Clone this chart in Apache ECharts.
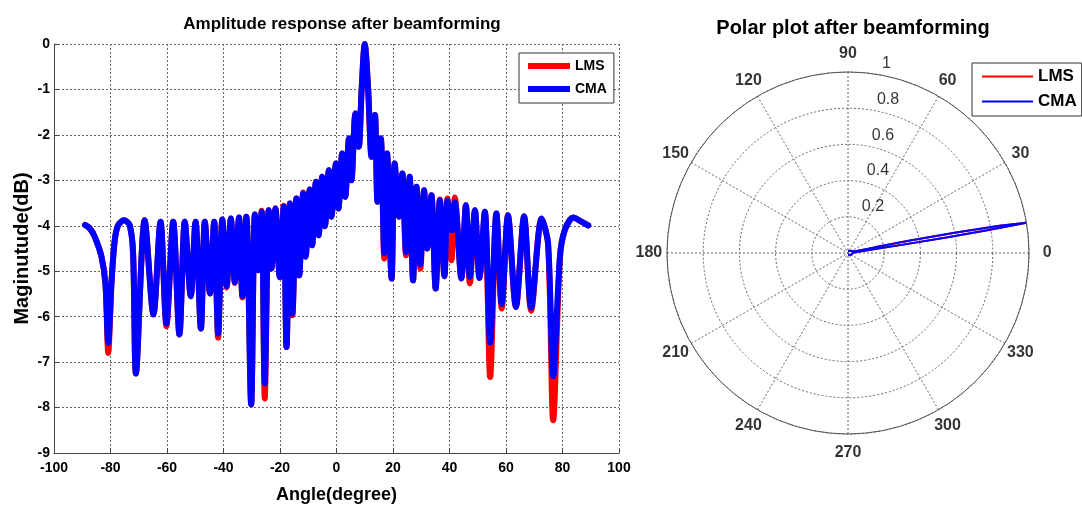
<!DOCTYPE html>
<html>
<head>
<meta charset="utf-8">
<title>Beamforming</title>
<script src="https://cdn.jsdelivr.net/npm/echarts@6.0.0/dist/echarts.min.js"></script>
<style>
  html, body { margin: 0; padding: 0; background: #fff; }
  #main { width: 1082px; height: 509px; }
</style>
</head>
<body>
<div id="main"></div>
<script>
// amplitude response (dB)
var angleDeg = [-89.0, -87.3, -85.6, -83.2, -81.8, -80.8, -79.6, -78.5, -77.3, -75.2, -73.2, -72.0, -71.0, -67.9, -64.8, -62.3, -60.2, -57.8, -55.6, -53.7,
  -51.6, -49.9, -48.0, -46.6, -44.8, -43.3, -41.9, -40.4, -38.9, -37.4, -36.0, -34.5, -33.3, -31.9, -30.2, -28.9, -27.7, -26.5, -25.4, -24.0,
  -23.0, -21.6, -20.1, -18.7, -17.7, -16.5, -15.6, -14.2, -13.2, -11.8, -10.9, -9.5, -8.6, -7.3, -6.3, -5.1, -4.1, -2.7, -1.8, -0.2,
  0.7, 2.0, 3.1, 4.4, 5.3, 6.7, 7.9, 8.9, 10.0, 11.2, 12.4, 13.6, 14.5, 15.7, 16.9, 17.9, 19.5, 20.6, 22.1, 23.3,
  24.6, 25.9, 27.1, 28.3, 29.7, 31.0, 32.1, 33.6, 35.1, 36.6, 38.2, 39.3, 40.7, 41.9, 44.2, 45.8, 47.2, 49.0, 50.6, 52.5,
  54.4, 56.6, 58.5, 60.7, 63.5, 66.4, 68.9, 72.6, 74.9, 76.7, 79.1, 80.8, 83.8, 86.7, 89.1];

var lmsDb = [-3.98, -4.06, -4.24, -4.68, -5.27, -6.80, -5.20, -4.32, -3.99, -3.88, -3.99, -4.61, -7.25, -3.88, -5.95, -3.91, -6.21, -3.91, -6.39, -3.91,
  -5.55, -3.91, -6.26, -3.91, -5.49, -3.91, -6.46, -3.86, -5.36, -3.84, -5.26, -3.82, -5.58, -3.80, -7.93, -3.75, -4.98, -3.67, -7.80, -3.66,
  -4.94, -3.62, -5.13, -3.56, -6.67, -3.51, -5.97, -3.40, -5.09, -3.27, -4.68, -3.20, -4.43, -3.03, -4.21, -2.92, -4.01, -2.78, -3.80, -2.63,
  -3.62, -2.41, -3.36, -2.08, -3.00, -1.53, -2.26, -1.00, 0.00, -1.00, -2.48, -1.56, -3.47, -2.08, -4.72, -2.41, -5.16, -2.63, -3.80, -2.85,
  -4.65, -2.92, -5.20, -3.14, -4.94, -3.22, -4.50, -3.33, -5.38, -3.42, -5.11, -3.40, -4.76, -3.38, -5.16, -3.55, -5.27, -3.66, -5.15, -3.69,
  -7.33, -3.73, -5.82, -3.77, -5.79, -3.79, -5.87, -3.84, -4.40, -8.28, -4.68, -4.10, -3.82, -3.91, -3.99];

var cmaDb = [-3.98, -4.06, -4.24, -4.68, -5.27, -6.58, -5.20, -4.32, -3.99, -3.88, -3.99, -4.61, -7.25, -3.88, -5.95, -3.91, -6.15, -3.91, -6.39, -3.91,
  -5.55, -3.91, -6.26, -3.91, -5.49, -3.91, -6.37, -3.86, -5.33, -3.84, -5.24, -3.82, -5.55, -3.80, -7.93, -3.75, -4.98, -3.69, -7.47, -3.66,
  -4.94, -3.62, -5.13, -3.58, -6.67, -3.51, -5.93, -3.40, -5.09, -3.29, -4.68, -3.20, -4.43, -3.03, -4.21, -2.92, -4.01, -2.78, -3.80, -2.63,
  -3.62, -2.41, -3.36, -2.08, -3.00, -1.53, -2.26, -1.00, 0.00, -1.00, -2.48, -1.56, -3.47, -2.08, -4.60, -2.41, -5.16, -2.63, -3.80, -2.85,
  -4.58, -2.92, -5.20, -3.14, -4.85, -3.22, -4.50, -3.33, -5.38, -3.44, -5.11, -3.45, -4.10, -3.48, -5.16, -3.55, -5.13, -3.66, -5.15, -3.69,
  -6.57, -3.73, -5.72, -3.77, -5.79, -3.79, -5.80, -3.84, -4.40, -7.31, -4.68, -4.10, -3.82, -3.91, -3.99];

// polar pattern (angle in degrees, normalised radius)
var polarAngle = [270, 300, 330, 350, 0, 5, 7.5, 8.2, 8.6, 9.0, 9.3, 9.6, 10.2, 10.8, 11.4, 12.0, 12.6, 13.6, 15.7, 20, 40, 60, 90];
var polarLms   = [0.01, 0.01, 0.02, 0.02, 0.02, 0.03, 0.04, 0.10, 0.30, 0.55, 0.78, 1.00, 0.85, 0.60, 0.35, 0.15, 0.05, 0.06, 0.04, 0.03, 0.02, 0.01, 0.01];
var polarCma   = [0.01, 0.01, 0.02, 0.02, 0.02, 0.03, 0.04, 0.10, 0.30, 0.55, 0.78, 1.00, 0.85, 0.60, 0.35, 0.15, 0.05, 0.06, 0.04, 0.03, 0.02, 0.01, 0.01];

var radialTicks = [0.2, 0.4, 0.6, 0.8, 1];
var angleTicks = [0, 30, 60, 90, 120, 150, 180, 210, 240, 270, 300, 330];

var FONT = "'Liberation Sans', Arial, sans-serif";
var R = 181;

function pairs(xs, ys) {
  var out = [];
  for (var i = 0; i < xs.length; i++) out.push([xs[i], ys[i]]);
  return out;
}
function polarPairs(as, rs) {
  var out = [];
  for (var i = 0; i < as.length; i++) out.push([rs[i], as[i]]);
  return out;
}

var myChart = echarts.init(document.getElementById('main'), null, { renderer: 'canvas' });

var gridLine = { show: true, lineStyle: { color: '#666', type: [2, 2], width: 1 } };
var hidden = { show: false };

var option = {
  backgroundColor: '#fff',
  animation: false,
  textStyle: { fontFamily: FONT },
  title: [
    {
      text: 'Amplitude response after beamforming',
      left: 337, top: 11, textAlign: 'center',
      textStyle: { fontFamily: FONT, fontSize: 17, fontWeight: 'bold', color: '#000' }
    },
    {
      text: 'Polar plot after beamforming',
      left: 848, top: 13, textAlign: 'center',
      textStyle: { fontFamily: FONT, fontSize: 20, fontWeight: 'bold', color: '#000' }
    }
  ],
  legend: [
    {
      data: ['LMS', 'CMA'],
      orient: 'vertical',
      left: 519, top: 53,
      icon: 'rect', itemWidth: 42, itemHeight: 6, itemGap: 9,
      padding: [6, 7, 7, 9],
      borderColor: '#333', borderWidth: 1, backgroundColor: '#fff',
      textStyle: { fontFamily: FONT, fontSize: 14, fontWeight: 'bold', color: '#000' }
    },
    {
      data: ['LMS', 'CMA'],
      orient: 'vertical',
      left: 972, top: 63,
      icon: 'rect', itemWidth: 51, itemHeight: 2, itemGap: 8,
      padding: [5, 5, 6, 10],
      borderColor: '#333', borderWidth: 1, backgroundColor: '#fff',
      textStyle: { fontFamily: FONT, fontSize: 17, fontWeight: 'bold', color: '#000' }
    }
  ],
  grid: { left: 54, right: 463, top: 44, bottom: 56 },
  xAxis: {
    type: 'value', min: -100, max: 100, interval: 20,
    name: 'Angle(degree)', nameLocation: 'middle', nameGap: 33,
    nameTextStyle: { fontFamily: FONT, fontSize: 18, fontWeight: 'bold', color: '#000' },
    axisLine: { show: true, onZero: false, lineStyle: { color: '#444' } },
    axisTick: { show: true, inside: true, length: 5, lineStyle: { color: '#444' } },
    axisLabel: { fontFamily: FONT, fontSize: 14, fontWeight: 'bold', color: '#000', margin: 8 },
    splitLine: gridLine
  },
  yAxis: {
    type: 'value', min: -9, max: 0, interval: 1,
    name: 'Maginutude(dB)', nameLocation: 'middle', nameGap: 22, nameRotate: 90,
    nameMoveOverlap: false,
    nameTextStyle: { fontFamily: FONT, fontSize: 20, fontWeight: 'bold', color: '#000' },
    axisLine: { show: true, onZero: false, lineStyle: { color: '#444' } },
    axisTick: { show: true, inside: true, length: 5, lineStyle: { color: '#444' } },
    axisLabel: { fontFamily: FONT, fontSize: 14, fontWeight: 'bold', color: '#000', margin: 4 },
    splitLine: gridLine
  },
  // polar 0: the plot itself; polar 1: same centre and scale, 10% larger, used only for the text labels
  polar: [
    { center: [848, 253], radius: R },
    { center: [848, 253], radius: R * 1.1 }
  ],
  angleAxis: [
    {
      polarIndex: 0, type: 'value', min: 0, max: 360, interval: 30,
      startAngle: 0, clockwise: false,
      axisLine: { show: true, lineStyle: { color: '#555', width: 1 } },
      axisTick: hidden, axisLabel: hidden,
      splitLine: { show: true, lineStyle: { color: '#666', type: [2, 2], width: 1 } }
    },
    {
      polarIndex: 1, type: 'value', min: 0, max: 360,
      startAngle: 0, clockwise: false,
      axisLine: hidden, axisTick: hidden, axisLabel: hidden, splitLine: hidden
    }
  ],
  radiusAxis: [
    {
      polarIndex: 0, type: 'value', min: 0, max: 1, interval: 0.2,
      axisLine: hidden, axisTick: hidden, axisLabel: hidden,
      splitLine: { show: true, lineStyle: { color: '#666', type: [2, 2], width: 1 } }
    },
    {
      polarIndex: 1, type: 'value', min: 0, max: 1.1,
      axisLine: hidden, axisTick: hidden, axisLabel: hidden, splitLine: hidden
    }
  ],
  series: [
    {
      name: 'LMS', type: 'line', xAxisIndex: 0, yAxisIndex: 0,
      data: pairs(angleDeg, lmsDb),
      smooth: 0.3, showSymbol: false, clip: false,
      color: '#ff0000',
      lineStyle: { color: '#ff0000', width: 6, cap: 'round', join: 'round' }
    },
    {
      name: 'CMA', type: 'line', xAxisIndex: 0, yAxisIndex: 0,
      data: pairs(angleDeg, cmaDb),
      smooth: 0.3, showSymbol: false, clip: false,
      color: '#0000ff',
      lineStyle: { color: '#0000ff', width: 6, cap: 'round', join: 'round' }
    },
    {
      name: 'LMS', type: 'line', coordinateSystem: 'polar', polarIndex: 0,
      data: polarPairs(polarAngle, polarLms),
      showSymbol: false, color: '#ff0000',
      lineStyle: { color: '#ff0000', width: 2 }
    },
    {
      name: 'CMA', type: 'line', coordinateSystem: 'polar', polarIndex: 0,
      data: polarPairs(polarAngle, polarCma),
      showSymbol: false, color: '#0000ff',
      lineStyle: { color: '#0000ff', width: 2 }
    },
    {
      // radial tick labels, MATLAB style along the 82 degree direction
      name: 'rlabels', type: 'scatter', coordinateSystem: 'polar', polarIndex: 1,
      silent: true, symbolSize: 1, itemStyle: { color: 'rgba(0,0,0,0)' },
      data: radialTicks.map(function (t) { return { name: String(t), value: [t + 0.01, 82] }; }),
      label: {
        show: true, formatter: '{b}', position: [9, 0],
        align: 'left', verticalAlign: 'bottom',
        fontFamily: FONT, fontSize: 16, color: '#000'
      }
    },
    {
      // angle labels centred at 1.1 x the outer radius
      name: 'alabels', type: 'scatter', coordinateSystem: 'polar', polarIndex: 1,
      silent: true, symbolSize: 1, itemStyle: { color: 'rgba(0,0,0,0)' },
      data: angleTicks.map(function (a) { return { name: String(a), value: [1.1, a] }; }),
      label: {
        show: true, formatter: '{b}', position: 'inside',
        align: 'center', verticalAlign: 'middle',
        fontFamily: FONT, fontSize: 16, fontWeight: 'bold', color: '#000'
      }
    }
  ]
};

myChart.setOption(option);
</script>
</body>
</html>
